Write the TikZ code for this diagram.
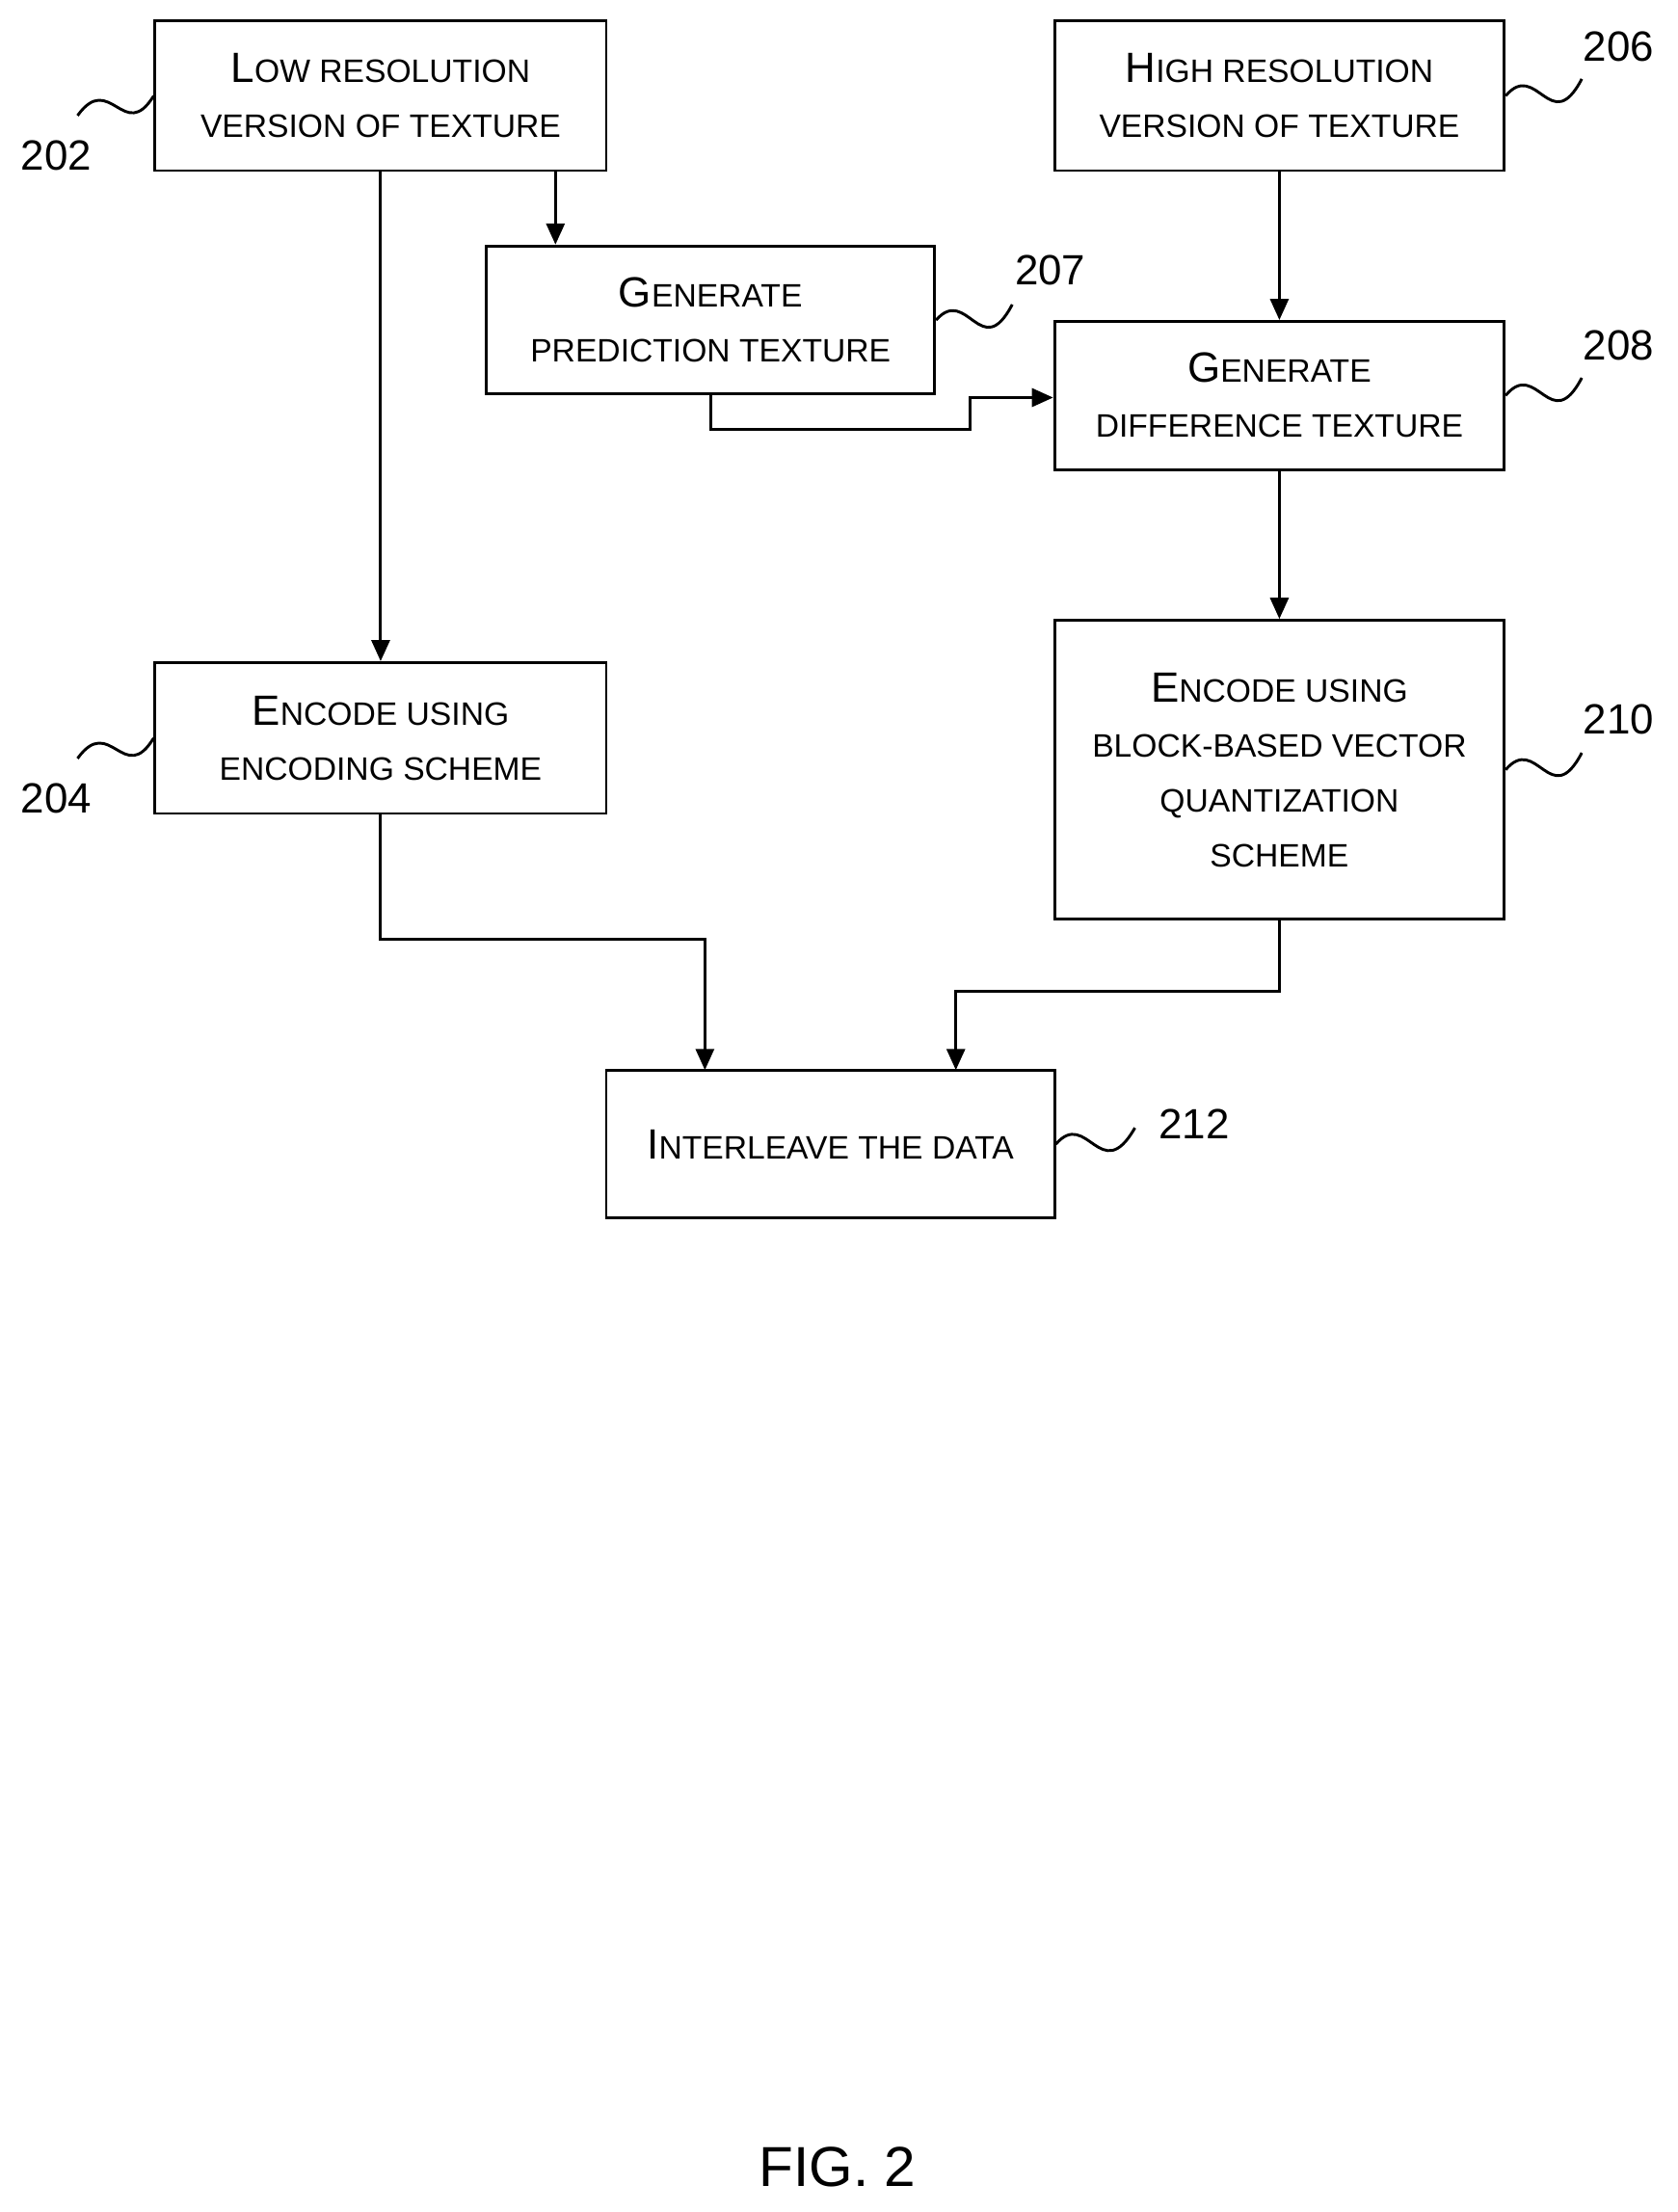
\documentclass[tikz,border=0pt]{standalone}
\usepackage{fontspec}
\setmainfont{Liberation Sans}
\usetikzlibrary{arrows.meta, positioning, calc}

% fake small caps: first letter large, rest uppercase and smaller
\newcommand{\fsc}[2]{{\fontsize{30}{39}\selectfont #1}{\fontsize{23}{39}\selectfont\MakeUppercase{#2}}}
\newcommand{\lsc}[1]{{\fontsize{23}{39}\selectfont\MakeUppercase{#1}}}

\begin{document}
\begin{tikzpicture}[x=1pt, y=-1pt,
  box/.style   = {draw, line width=2pt, align=center, inner sep=0pt,
                  font=\fontsize{23}{39}\selectfont},
  arrow/.style = {line width=2pt, -{Triangle[length=15pt, width=13pt]}},
  ref/.style   = {font=\fontsize{30}{36}\selectfont},
  squig/.style = {line width=2pt}
]
\useasboundingbox (0,0) rectangle (1190,1569);

%--------------------------------------------------
% Boxes
%--------------------------------------------------
\node[box, minimum width=320pt, minimum height=106pt] (low) at (270,68)
  {\fsc{L}{ow resolution}\\\lsc{version of texture}};
\node[box, minimum width=318pt, minimum height=105pt] (pred) at (504,227)
  {\fsc{G}{enerate}\\\lsc{prediction texture}};
\node[box, minimum width=319pt, minimum height=106pt] (high) at (907.5,68)
  {\fsc{H}{igh resolution}\\\lsc{version of texture}};
\node[box, minimum width=319pt, minimum height=105pt] (diff) at (907.5,280.5)
  {\fsc{G}{enerate}\\\lsc{difference texture}};
\node[box, minimum width=320pt, minimum height=107pt] (enclow) at (270,523.5)
  {\fsc{E}{ncode using}\\\lsc{encoding scheme}};
\node[box, minimum width=319pt, minimum height=212pt] (encvq) at (907.5,546)
  {\fsc{E}{ncode using}\\\lsc{block-based vector}\\\lsc{quantization}\\\lsc{scheme}};
\node[box, minimum width=318pt, minimum height=105pt] (inter) at (589,811.5)
  {\fsc{I}{nterleave the data}};

%--------------------------------------------------
% Reference numerals
%--------------------------------------------------
\node[ref] (n202) at (40,110) {202};
\node[ref] (n206) at (1148,33) {206};
\node[ref] (n207) at (745,192) {207};
\node[ref] (n208) at (1148,245) {208};
\node[ref] (n204) at (40,566) {204};
\node[ref] (n210) at (1148,510) {210};
\node[ref] (n212) at (847,797) {212};
\node[font=\fontsize{40}{48}\selectfont] (fig) at (594,1537) {FIG. 2};

% squiggles
\draw[squig] (55,82) .. controls (78,50) and (88,102) .. (low.west);
\draw[squig] (55,538) .. controls (78,506) and (88,558) .. (enclow.west);
\draw[squig] (high.east) .. controls (1090,42) and (1100,98) .. (1122,56);
\draw[squig] (pred.east) .. controls (686,202) and (696,258) .. (718,216);
\draw[squig] (diff.east) .. controls (1090,254) and (1100,310) .. (1122,268);
\draw[squig] (encvq.east) .. controls (1090,520) and (1100,576) .. (1122,534);
\draw[squig] (inter.east) .. controls (771,786) and (781,842) .. (805,800);

%--------------------------------------------------
% Connections
%--------------------------------------------------
\draw[arrow] (low.south) -- (enclow.north);
\draw[arrow] (low.south -| pred.north west) ++(50,0) coordinate (lp) -- (lp |- pred.north);
\draw[arrow] (high.south) -- (diff.north);
\draw[arrow] (pred.south) -- ++(0,24) -| (688,282) -- (diff.west |- 0,282);
\draw[arrow] (diff.south) -- (encvq.north);
\draw[arrow] (enclow.south) |- (500,666) -- (500,759);
\draw[arrow] (encvq.south) |- (678,703) -- (678,759);
\end{tikzpicture}
\end{document}
